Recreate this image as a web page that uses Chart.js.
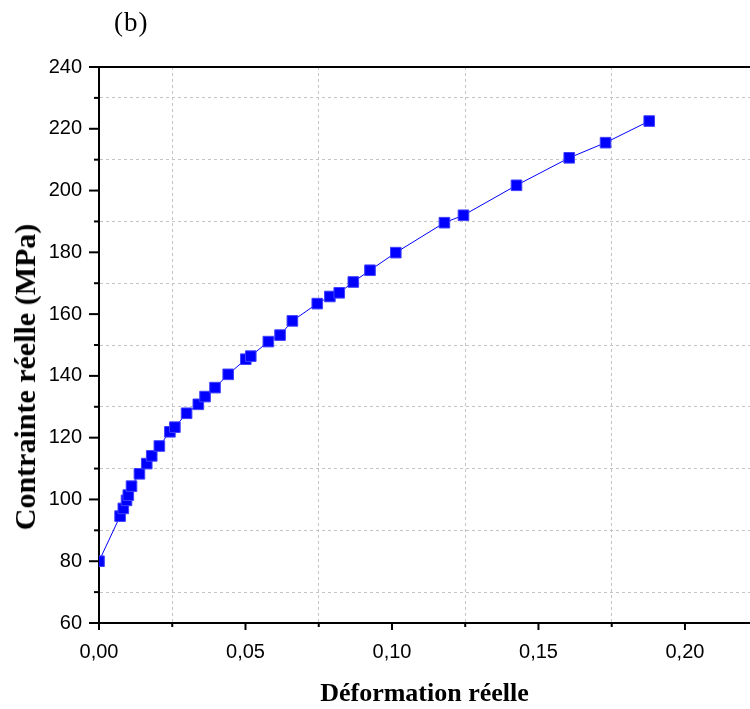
<!DOCTYPE html>
<html lang="fr">
<head>
  <meta charset="UTF-8">
  <title>Contrainte réelle - Déformation réelle</title>
  <script src="https://cdn.jsdelivr.net/npm/chart.js"></script>
  <style>
    body { margin: 0; background: #fff; }
    #wrap { position: relative; width: 750px; height: 709px; }
    #panel { position: absolute; left: 114px; top: 9px; font: 27px 'Liberation Serif', serif; line-height: 1; letter-spacing: 1px; }
    #ytitle { position: absolute; left: 25px; top: 377px; transform: translate(-50%, -50%) rotate(-90deg);
              font: bold 30px 'Liberation Serif', serif; white-space: nowrap; line-height: 1; }
  </style>
</head>
<body>
  <div id="wrap">
    <canvas id="chart" width="750" height="709"></canvas>
    <div id="panel">(b)</div>
    <div id="ytitle">Contrainte réelle (MPa)</div>
  </div>

  <script>
    // points (true strain, true stress in MPa)
    const strain = [0.0000, 0.0072, 0.0083, 0.0094, 0.0100, 0.0111, 0.0138, 0.0163, 0.0180, 0.0206,
                    0.0242, 0.0259, 0.0299, 0.0339, 0.0362, 0.0396, 0.0441, 0.0501, 0.0518, 0.0578,
                    0.0618, 0.0660, 0.0745, 0.0788, 0.0820, 0.0868, 0.0925, 0.1013, 0.1179, 0.1244,
                    0.1425, 0.1605, 0.1729, 0.1878];
    const stress = [80.0, 94.6, 97.1, 99.7, 101.4, 104.3, 108.3, 111.6, 114.1, 117.3,
                    121.9, 123.4, 127.9, 130.8, 133.3, 136.2, 140.5, 145.4, 146.4, 151.1,
                    153.2, 157.8, 163.4, 165.7, 166.9, 170.4, 174.2, 179.9, 189.6, 192.0,
                    201.7, 210.6, 215.5, 222.5];

    const xTickLabels = ['0,00', '0,05', '0,10', '0,15', '0,20'];
    const yTickLabels = ['60', '80', '100', '120', '140', '160', '180', '200', '220', '240'];
    const xMinorTicks = [0.025, 0.075, 0.125, 0.175];
    const yMinorTicks = [70, 90, 110, 130, 150, 170, 190, 210, 230];

    const xMajorTicks = xTickLabels.map(s => parseFloat(s.replace(',', '.')));
    const yMajorTicks = yTickLabels.map(s => parseFloat(s));

    const near = (a, b) => Math.abs(a - b) < 1e-6;
    const isMinor = (list, v) => list.some(m => near(m, v));
    const labelFor = (values, labels, v) => {
      const i = values.findIndex(m => near(m, v));
      return i < 0 ? '' : labels[i];
    };

    // tick marks outside the frame, long for major, short for minor, plus top frame line
    const frameTicks = {
      id: 'frameTicks',
      afterDraw(chart) {
        const { ctx, chartArea: a, scales: { x, y } } = chart;
        ctx.save();
        ctx.strokeStyle = '#000';
        ctx.lineWidth = 2;
        const seg = (x1, y1, x2, y2) => { ctx.beginPath(); ctx.moveTo(x1, y1); ctx.lineTo(x2, y2); ctx.stroke(); };
        seg(a.left - 1, a.top, a.right, a.top);
        yMajorTicks.forEach(v => { const p = y.getPixelForValue(v); seg(a.left - 10, p, a.left, p); });
        yMinorTicks.forEach(v => { const p = y.getPixelForValue(v); seg(a.left - 5, p, a.left, p); });
        xMajorTicks.forEach(v => { const p = x.getPixelForValue(v); seg(p, a.bottom, p, a.bottom + 7); });
        xMinorTicks.forEach(v => { const p = x.getPixelForValue(v); seg(p, a.bottom, p, a.bottom + 4); });
        ctx.restore();
      }
    };

    const points = strain.map((s, i) => ({ x: s, y: stress[i] }));

    new Chart(document.getElementById('chart'), {
      type: 'scatter',
      data: {
        datasets: [{
          data: points,
          showLine: true,
          borderColor: '#0000ff',
          borderWidth: 1,
          tension: 0,
          pointStyle: 'rect',
          pointRadius: 7.5,
          pointBackgroundColor: '#0000ff',
          pointBorderColor: '#4040ff',
          pointBorderWidth: 1,
          clip: { left: 0, top: false, right: false, bottom: false }
        }]
      },
      options: {
        responsive: false,
        animation: false,
        devicePixelRatio: 1,
        layout: { autoPadding: false, padding: { top: 67, right: 0, left: 0, bottom: 0 } },
        plugins: { legend: { display: false }, tooltip: { enabled: false } },
        scales: {
          x: {
            type: 'linear',
            min: 0,
            max: 0.2222,
            afterBuildTicks: s => { s.ticks = xMajorTicks.concat(xMinorTicks).sort((a, b) => a - b).map(v => ({ value: v })); },
            afterFit: s => { s.height = 86; s.paddingLeft = 0; s.paddingRight = 0; },
            ticks: {
              autoSkip: false,
              maxRotation: 0,
              padding: 17,
              color: '#000',
              font: { family: "'Liberation Sans', Arial, sans-serif", size: 20 },
              callback: v => labelFor(xMajorTicks, xTickLabels, v)
            },
            grid: {
              drawTicks: false,
              color: c => isMinor(xMinorTicks, c.tick.value) ? '#c4c4c4' : 'rgba(0,0,0,0)',
              lineWidth: 1
            },
            border: { display: true, color: '#000', width: 2, dash: [3, 3] },
            title: {
              display: true,
              text: 'Déformation réelle',
              color: '#000',
              font: { family: "'Liberation Serif', 'Times New Roman', serif", size: 26, weight: 'bold', lineHeight: 1.1 },
              padding: { top: 0, bottom: 0 }
            }
          },
          y: {
            type: 'linear',
            min: 60,
            max: 240,
            afterBuildTicks: s => { s.ticks = yMajorTicks.concat(yMinorTicks).sort((a, b) => a - b).map(v => ({ value: v })); },
            afterFit: s => { s.width = 99; },
            ticks: {
              autoSkip: false,
              padding: 17,
              color: '#000',
              font: { family: "'Liberation Sans', Arial, sans-serif", size: 20 },
              callback: v => labelFor(yMajorTicks, yTickLabels, v)
            },
            grid: {
              drawTicks: false,
              color: c => isMinor(yMinorTicks, c.tick.value) ? '#c4c4c4' : 'rgba(0,0,0,0)',
              lineWidth: 1
            },
            border: { display: true, color: '#000', width: 2, dash: [3, 3] }
          }
        }
      },
      plugins: [frameTicks]
    });
  </script>
</body>
</html>
